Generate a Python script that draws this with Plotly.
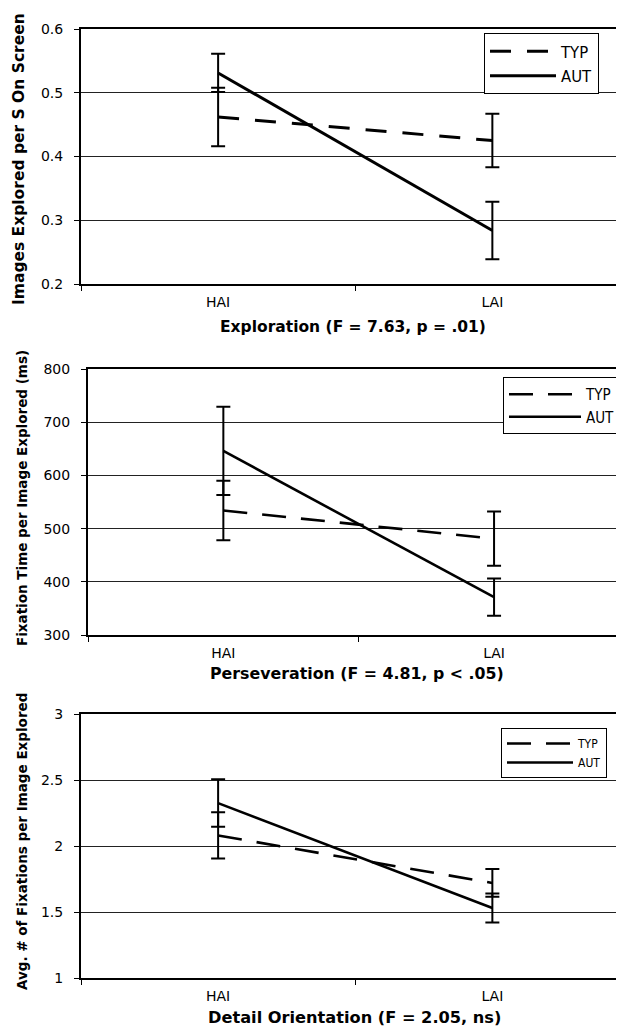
import plotly.graph_objects as go

categories = ["HAI", "LAI"]

# Panel 1: Exploration
p1_typ = [0.462, 0.425]
p1_typ_err = [0.046, 0.042]
p1_aut = [0.531, 0.284]
p1_aut_err = [0.030, 0.045]

# Panel 2: Perseveration
p2_typ = [534, 481]
p2_typ_err = [56, 51]
p2_aut = [646, 371]
p2_aut_err = [83, 35]

# Panel 3: Detail orientation
p3_typ = [2.08, 1.72]
p3_typ_err = [0.175, 0.105]
p3_aut = [2.325, 1.53]
p3_aut_err = [0.18, 0.11]

y_titles = ["Images Explored per S On Screen",
            "Fixation Time per Image Explored (ms)",
            "Avg. # of Fixations per Image Explored"]
x_titles = ["Exploration (F = 7.63, p = .01)",
            "Perseveration (F = 4.81, p < .05)",
            "Detail Orientation (F = 2.05, ns)"]
y_ranges = [[0.2, 0.6], [300, 800], [1, 3]]
y_dticks = [0.1, 100, 0.5]
y_formats = [".1f", "d", ""]

# the page body adds an 8px offset; figure coordinates are page coordinates - 8
OFF = 8
W, H = 624 - OFF, 1026 - OFF
# pixel geometry of each panel in page coordinates: (left, top, bottom)
panels_px = [(81, 29, 284), (88, 369, 635), (81, 714, 978)]
dash_styles = ["21px,16px", "24px,15px", "24px,15px"]
line_widths = [3, 2.6, 2.6]
legend_px = [(484, 33, 16.5), (503, 377, 15), (501, 728, 12)]
legend_itemw = [66, 72, 66]
ytitle_sizes = [15.5, 13.5, 13.5]
xtitle_sizes = [15.5, 15.8, 16.2]
ytitle_x = [19, 22, 22]
ytitle_y = [159, 498, 842]
xtitle_x = [353, 357, 354]
xtitle_y = [327, 673, 1017]

data = [
    (p1_typ, p1_typ_err, p1_aut, p1_aut_err),
    (p2_typ, p2_typ_err, p2_aut, p2_aut_err),
    (p3_typ, p3_typ_err, p3_aut, p3_aut_err),
]


def px(v):
    return (v - OFF) / W


def py(v):
    return 1 - (v - OFF) / H


fig = go.Figure()
layout = {}
annotations = []
for i, (typ, typ_e, aut, aut_e) in enumerate(data):
    n = i + 1
    xa = "x" if n == 1 else f"x{n}"
    ya = "y" if n == 1 else f"y{n}"
    lg = "legend" if n == 1 else f"legend{n}"
    for name, vals, errs, dash in [("TYP", typ, typ_e, dash_styles[i]),
                                   ("AUT", aut, aut_e, "solid")]:
        fig.add_trace(go.Scatter(
            x=categories, y=vals, name=name, mode="lines",
            line=dict(color="black", width=line_widths[i], dash=dash),
            error_y=dict(type="data", array=errs, visible=True,
                         color="black", thickness=2, width=7),
            xaxis=xa, yaxis=ya, legend=lg, showlegend=True,
        ))
    left, top, bottom = panels_px[i]
    layout["xaxis" if n == 1 else f"xaxis{n}"] = dict(
        domain=[px(left), 1.0], anchor=ya, type="category",
        range=[-0.5, 1.48], tickson="boundaries", ticks="outside",
        ticklen=5, tickcolor="black", showline=True, linecolor="black",
        linewidth=2, mirror=True, showgrid=False, zeroline=False,
        automargin=False, ticklabelstandoff=4,
        tickfont=dict(family="DejaVu Sans", size=14, color="black"),
    )
    layout["yaxis" if n == 1 else f"yaxis{n}"] = dict(
        domain=[py(bottom), py(top)], anchor=xa,
        range=y_ranges[i], dtick=y_dticks[i], tickformat=y_formats[i],
        ticks="outside", ticklen=5, tickcolor="black",
        showline=True, linecolor="black", linewidth=2,
        showgrid=True, gridcolor="#222222", gridwidth=1.3, zeroline=False,
        automargin=False, ticklabelstandoff=8,
        tickfont=dict(family="DejaVu Sans", size=14, color="black"),
    )
    lx, ly, lfs = legend_px[i]
    layout[lg] = dict(
        x=px(lx), y=py(ly), xanchor="left", yanchor="top",
        xref="paper", yref="paper",
        bordercolor="black", borderwidth=1, bgcolor="white",
        font=dict(family="Liberation Sans Narrow, DejaVu Sans Condensed", size=lfs, color="black"),
        itemwidth=legend_itemw[i], tracegroupgap=0, traceorder="normal",
    )
    annotations.append(dict(
        text=f"<b>{y_titles[i]}</b>", textangle=-90, showarrow=False,
        xref="paper", yref="paper", x=px(ytitle_x[i]),
        y=py(ytitle_y[i]), xanchor="center", yanchor="middle",
        font=dict(family="DejaVu Sans", size=ytitle_sizes[i], color="black"),
    ))
    annotations.append(dict(
        text=f"<b>{x_titles[i]}</b>", showarrow=False,
        xref="paper", yref="paper", x=px(xtitle_x[i]), y=py(xtitle_y[i]),
        xanchor="center", yanchor="middle",
        font=dict(family="DejaVu Sans", size=xtitle_sizes[i], color="black"),
    ))

fig.update_layout(
    template="none",
    width=W, height=H,
    margin=dict(l=0, r=0, t=0, b=0, pad=0, autoexpand=False),
    paper_bgcolor="white", plot_bgcolor="white",
    annotations=annotations, **layout,
)
fig.write_html("out.html")
